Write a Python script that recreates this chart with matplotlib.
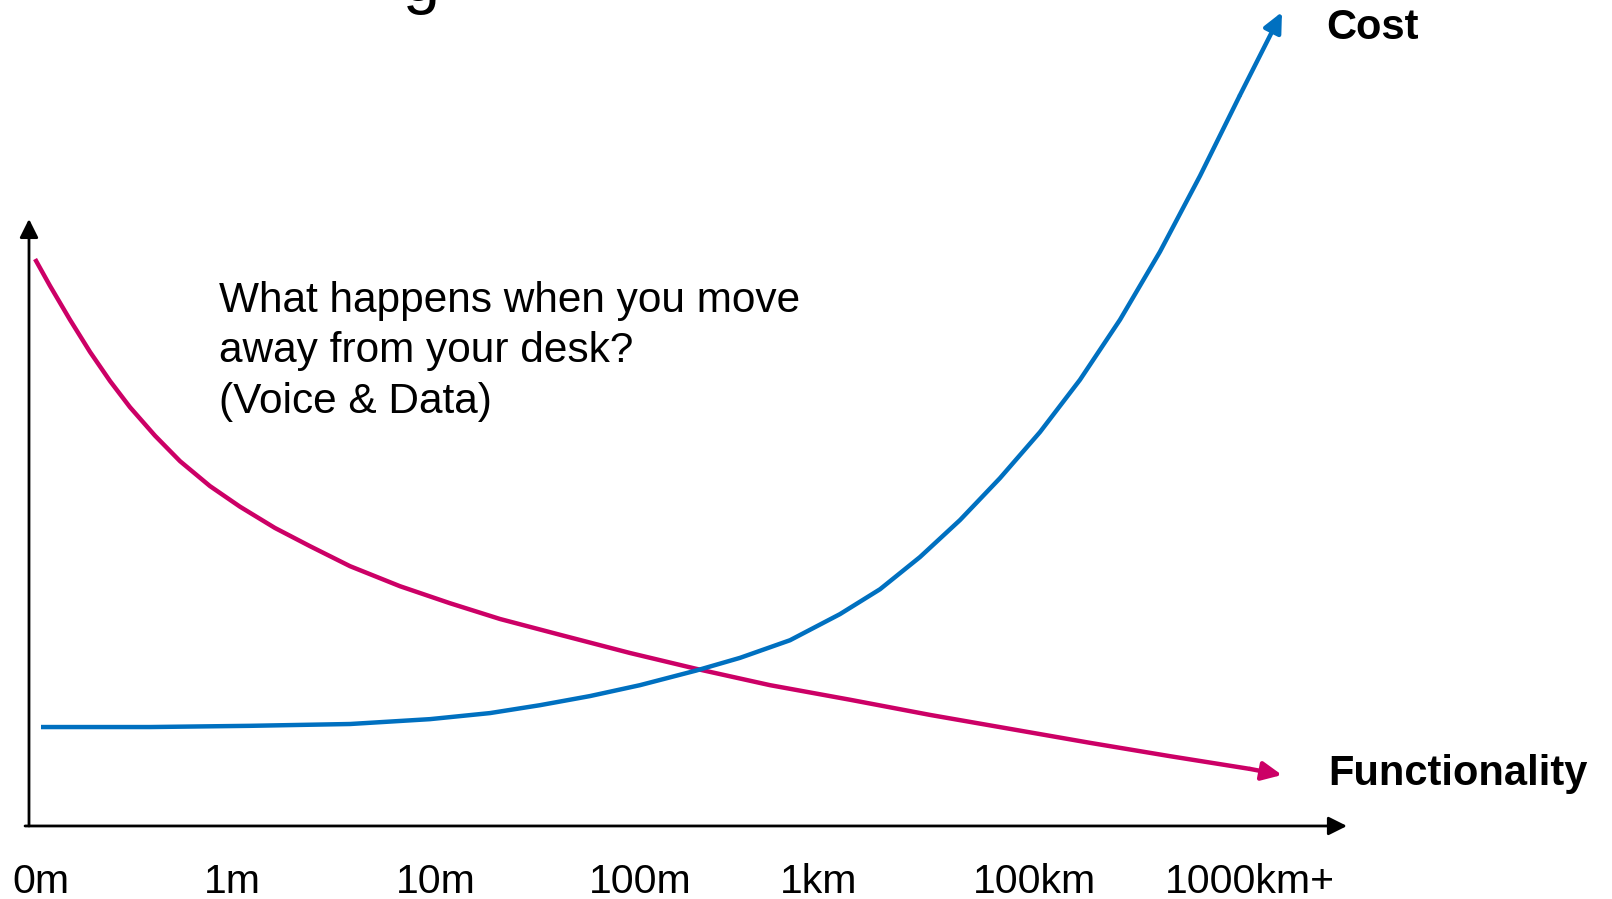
import matplotlib
matplotlib.use("Agg")
import matplotlib.pyplot as plt

plt.rcParams['font.family'] = ['Liberation Sans', 'DejaVu Sans']

# ---- data (chart units: x 0..100 along the distance axis, y 0..100 up the value axis)
distance_labels = ["0m", "1m", "10m", "100m", "1km", "100km", "1000km+"]
distance_pos = [0.9, 15.4, 30.9, 46.4, 59.9, 76.3, 92.6]

func_x = [0.46, 1.59, 3.11, 4.63, 6.15, 7.66, 9.56, 11.46, 13.73, 16.01, 18.66, 21.32,
          24.36, 28.15, 31.94, 35.74, 40.29, 45.60, 50.61, 56.22, 62.29, 68.36, 74.43,
          80.50, 86.57, 92.64, 95.07]
func_y = [93.4, 89.0, 83.4, 78.1, 73.3, 69.0, 64.3, 60.1, 56.0, 52.6, 49.1, 46.1,
          42.8, 39.5, 36.7, 34.1, 31.5, 28.5, 25.9, 23.2, 20.8, 18.3, 16.0,
          13.7, 11.5, 9.4, 8.4]

cost_x = [0.91, 9.18, 16.77, 24.36, 30.42, 34.98, 38.77, 42.56, 46.36, 50.61, 53.95,
          57.74, 61.53, 64.57, 67.60, 70.64, 73.67, 76.71, 79.74, 82.78, 85.81, 88.85,
          91.88, 95.07]
cost_y = [16.3, 16.3, 16.5, 16.8, 17.6, 18.6, 19.9, 21.4, 23.2, 25.6, 27.7,
          30.6, 34.9, 39.0, 44.3, 50.4, 57.3, 64.9, 73.5, 83.4, 94.6, 107.1,
          120.4, 134.1]

annotation_text = "What happens when you move\naway from your desk?\n(Voice & Data)"
cost_label = "Cost"
func_label = "Functionality"
title_fragment = "g"

BLUE = "#0070C0"
PINK = "#CC0066"

fig = plt.figure(figsize=(16.12, 8.99), dpi=100)
ax = fig.add_axes([0, 0, 1, 1])
ax.set_xlim(-2.20, 120.11)
ax.set_ylim(-12.03, 136.08)
ax.axis('off')

# axes arrows
axis_arrow = dict(arrowstyle='-|>,head_length=0.8,head_width=0.4', mutation_scale=14,
                  lw=2, color='black', shrinkA=0, shrinkB=0)
ax.annotate('', xy=(100, 0), xytext=(-0.3, 0), arrowprops=axis_arrow)
ax.annotate('', xy=(0, 100), xytext=(0, 0), arrowprops=axis_arrow)


def curve(xs, ys, color):
    ax.plot(xs[:-1], ys[:-1], color=color, lw=3.2, solid_capstyle='butt',
            solid_joinstyle='round', clip_on=False)
    ax.annotate('', xy=(xs[-1], ys[-1]), xytext=(xs[-2], ys[-2]),
                arrowprops=dict(arrowstyle='-|>,head_length=0.85,head_width=0.4',
                                mutation_scale=14, lw=3.2, color=color,
                                shrinkA=0, shrinkB=0))


curve(func_x, func_y, PINK)
curve(cost_x, cost_y, BLUE)

# tick labels
for pos, lab in zip(distance_pos, distance_labels):
    ax.text(pos, -11.0, lab, ha='center', va='baseline', fontsize=29.5, color='black')

# labels
ax.text(98.4, 129.7, cost_label, ha='left', va='baseline', fontsize=30,
        fontweight='bold', color='black')
ax.text(98.6, 6.75, func_label, ha='left', va='baseline', fontsize=30,
        fontweight='bold', color='black')

# multi-line note: baseline alignment refers to the last line
ax.text(14.4, 68.0, annotation_text, ha='left', va='baseline', fontsize=30.5,
        linespacing=1.35, color='black')

# cut-off title fragment at top (as in the reference)
ax.text(28.3, 135.9, title_fragment, ha='left', va='baseline', fontsize=48, color='black')

fig.savefig("out.png", dpi=100)
